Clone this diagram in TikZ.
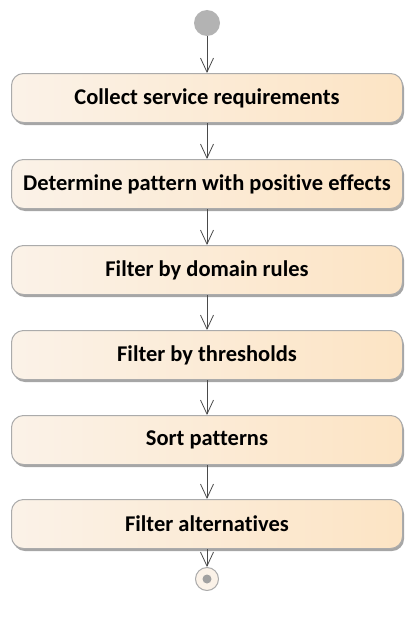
\documentclass[tikz,border=0pt]{standalone}
\usepackage{fontspec}
\setmainfont{Carlito}[Ligatures={NoCommon}]
\usetikzlibrary{arrows.meta,shadows,positioning}

\definecolor{actleft}{HTML}{FBF2E8}
\definecolor{actright}{HTML}{FCE4C4}
\definecolor{actborder}{HTML}{ABABAB}
\definecolor{actshadow}{HTML}{9C9C9C}
\definecolor{flowline}{HTML}{4A4A4A}
\definecolor{startgray}{HTML}{B3B3B3}

\tikzset{
  action/.style={
    draw=actborder, line width=1pt, rounded corners=12pt,
    left color=actleft, right color=actright,
    minimum width=391pt, minimum height=49pt,
    font=\bfseries\fontsize{22.5}{26}\selectfont, text=black,
    drop shadow={shadow xshift=1.5pt, shadow yshift=-2.5pt, fill=actshadow, opacity=0.9}
  },
  flow/.style={draw=flowline, line width=0.8pt,
    -{Straight Barb[length=14pt,width=13pt,line width=0.8pt]}},
  initial/.style={circle, fill=startgray, minimum size=26pt, inner sep=0pt},
  finalring/.style={circle, draw=actborder, line width=1pt, fill=actleft,
    minimum size=23pt, inner sep=0pt},
  finaldot/.style={circle, fill=startgray!90!black, minimum size=9pt, inner sep=0pt}
}

\begin{document}
\begin{tikzpicture}[x=1pt,y=-1pt]
  \useasboundingbox (0,0) rectangle (411,618);

  \node[initial] (start) at (207,23) {};

  \node[action] (a1) at (207,98)  {Collect service requirements};
  \node[action] (a2) at (207,184) {Determine pattern with positive effects};
  \node[action] (a3) at (207,270) {Filter by domain rules};
  \node[action] (a4) at (207,355) {Filter by thresholds};
  \node[action] (a5) at (207,440) {Sort patterns};
  \node[action] (a6) at (207,524) {Filter alternatives};

  \node[finalring] (end) at (207,579) {};
  \node[finaldot] (enddot) at (end.center) {};

  \draw[flow] (start) -- (a1);
  \draw[flow] (a1) -- (a2);
  \draw[flow] (a2) -- (a3);
  \draw[flow] (a3) -- (a4);
  \draw[flow] (a4) -- (a5);
  \draw[flow] (a5) -- (a6);
  \draw[flow] (a6) -- (end);
\end{tikzpicture}
\end{document}
